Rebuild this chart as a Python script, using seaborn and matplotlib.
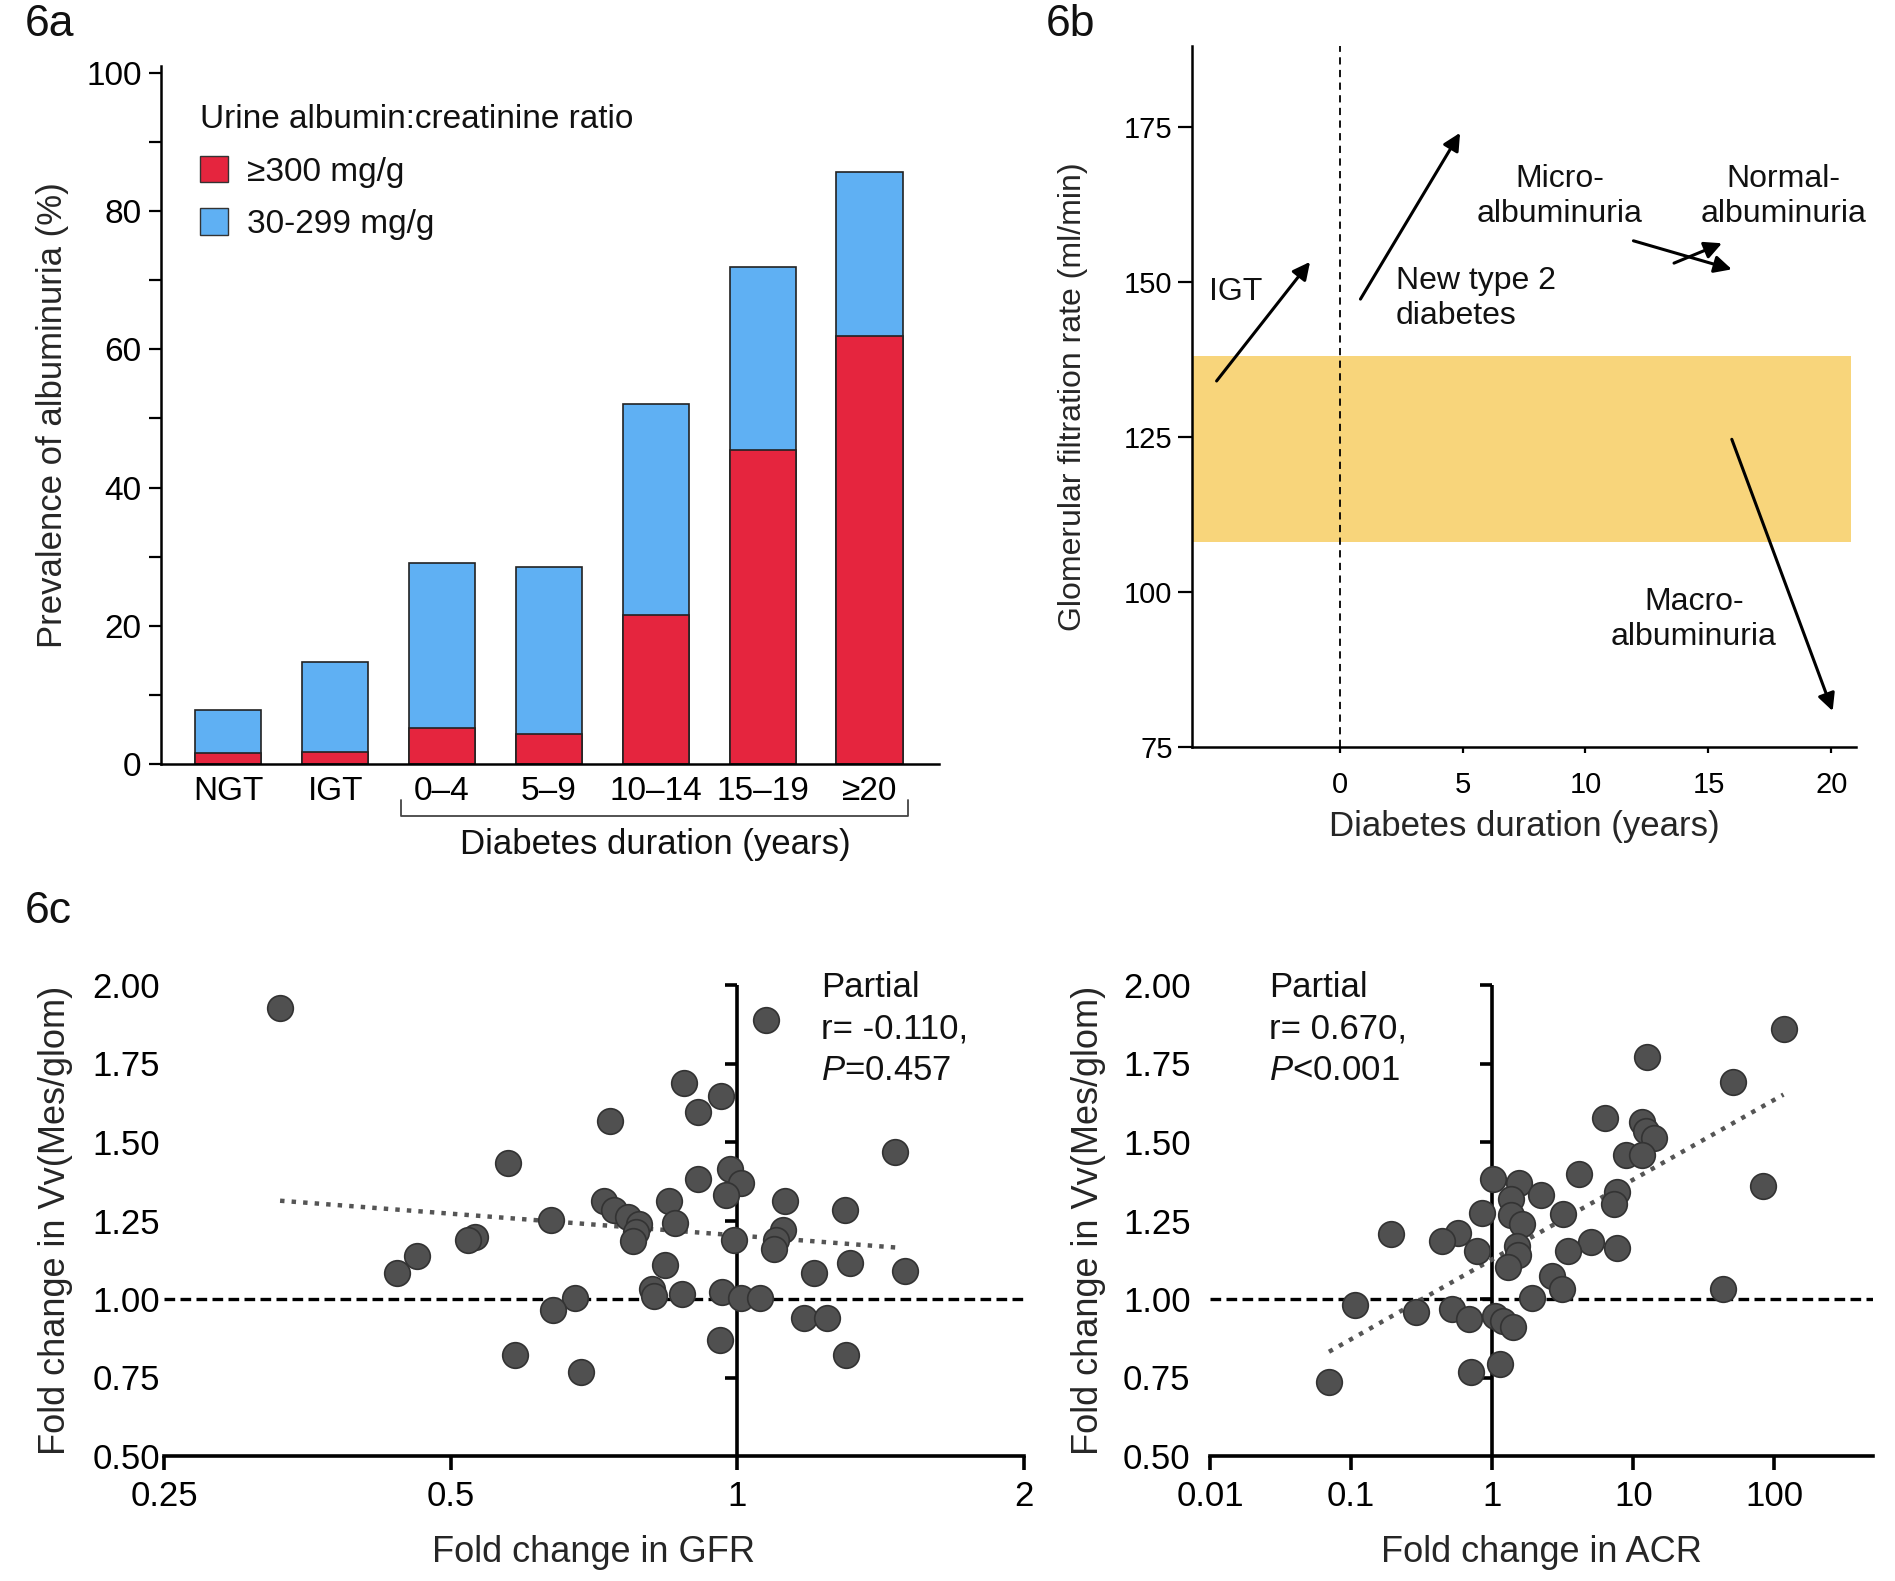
import numpy as np
import pandas as pd
import matplotlib
matplotlib.use('Agg')
import matplotlib.pyplot as plt
from matplotlib.patches import Patch
from matplotlib.markers import TICKLEFT
from matplotlib.ticker import NullLocator, MultipleLocator
import seaborn as sns

# ---- 6a: prevalence of albuminuria ----
groups = ['NGT', 'IGT', '0–4', '5–9', '10–14', '15–19', '≥20']
macro_pct = [1.6, 1.7, 5.2, 4.3, 21.6, 45.5, 62.0]     # >=300 mg/g
total_pct = [7.8, 14.7, 29.1, 28.5, 52.1, 71.9, 85.7]  # top of stacked bar

# ---- 6b: GFR course ----
band_lo, band_hi = 108, 138
band_x = [-6, 20.8]
arrow_x0 = [-5.0, 0.85, 11.95, 13.6, 15.95]
arrow_y0 = [134.0, 147.2, 156.6, 153.0, 124.6]
arrow_x1 = [-1.2, 4.9, 15.95, 15.55, 20.05]
arrow_y1 = [153.2, 174.0, 152.0, 156.2, 80.8]
note_text = ['IGT', 'New type 2\ndiabetes', 'Micro-\nalbuminuria',
             'Normal-\nalbuminuria', 'Macro-\nalbuminuria']
note_x = [-5.3, 2.3, 8.95, 18.05, 14.4]
note_y = [148.3, 147.3, 163.7, 163.7, 95.6]
note_ha = ['left', 'left', 'center', 'center', 'center']

# ---- 6c: fold changes ----
gfr_fold = [0.331, 1.073, 0.878, 0.962, 0.909, 0.735, 1.464, 0.575, 0.983, 1.009,
            0.909, 0.974, 0.848, 1.122, 0.725, 0.742, 1.296, 0.767, 0.637, 0.788,
            0.861, 1.116, 0.782, 0.992, 0.530, 0.521, 0.777, 1.099, 1.094, 0.461,
            1.312, 0.839, 0.439, 1.500, 1.203, 0.813, 0.817, 0.874, 0.964, 1.009,
            1.057, 0.676, 0.641, 1.176, 1.243, 0.959, 0.584, 1.302, 0.685]
vv_gfr = [1.926, 1.888, 1.689, 1.645, 1.594, 1.568, 1.468, 1.433, 1.414, 1.370,
          1.382, 1.330, 1.313, 1.313, 1.311, 1.284, 1.284, 1.261, 1.253, 1.239,
          1.242, 1.221, 1.212, 1.189, 1.199, 1.187, 1.185, 1.187, 1.158, 1.138,
          1.116, 1.107, 1.084, 1.090, 1.082, 1.032, 1.010, 1.015, 1.021, 1.004,
          1.004, 1.004, 0.966, 0.941, 0.941, 0.870, 0.823, 0.821, 0.769]
acr_fold = [117.8, 12.6, 50.5, 6.27, 11.6, 12.4, 13.95, 8.93, 11.5, 4.12,
            1.02, 1.55, 83.5, 2.21, 7.62, 1.36, 7.26, 0.853, 3.2, 1.36,
            1.62, 0.192, 0.572, 0.44, 5.0, 7.62, 1.49, 0.778, 3.45, 1.52,
            1.29, 2.66, 3.15, 43.5, 1.92, 0.107, 0.29, 0.521, 0.689, 1.04,
            1.2, 1.41, 1.13, 0.702, 0.0697]
vv_acr = [1.859, 1.771, 1.691, 1.576, 1.565, 1.536, 1.513, 1.460, 1.460, 1.399,
          1.382, 1.368, 1.361, 1.330, 1.342, 1.319, 1.302, 1.273, 1.270, 1.267,
          1.239, 1.208, 1.210, 1.185, 1.181, 1.164, 1.170, 1.153, 1.153, 1.141,
          1.101, 1.073, 1.032, 1.032, 1.002, 0.981, 0.960, 0.969, 0.937, 0.947,
          0.929, 0.912, 0.794, 0.769, 0.735]
gfr_fit_x = [0.331, 1.467]
gfr_fit_y = [1.313, 1.164]
acr_fit_x = [0.0697, 116.0]
acr_fit_y = [0.832, 1.651]

sns.set_style('ticks')
plt.rcParams['font.family'] = ['Liberation Sans', 'DejaVu Sans']
plt.rcParams['mathtext.fontset'] = 'custom'
plt.rcParams['mathtext.it'] = 'Liberation Sans:italic'
plt.rcParams['mathtext.rm'] = 'Liberation Sans'
plt.rcParams['axes.edgecolor'] = 'black'
plt.rcParams['text.color'] = '#111111'
plt.rcParams['xtick.color'] = 'black'
plt.rcParams['ytick.color'] = 'black'

W, H = 1895, 1581
fig = plt.figure(figsize=(W / 100, H / 100), dpi=100)


def box(x0, y0, x1, y1):
    # pixel box (top-left origin) -> figure fraction
    return [x0 / W, 1 - y1 / H, (x1 - x0) / W, (y1 - y0) / H]


RED = '#E5253E'
BLUE = '#5FB0F3'

# ================= 6a =================
ax = fig.add_axes(box(161, 66, 939, 764))
df = pd.DataFrame({'group': groups, 'total': total_pct, 'macro': macro_pct})
sns.barplot(data=df, x='group', y='total', color=BLUE, edgecolor='#222222',
            linewidth=1.2, width=0.62, saturation=1, ax=ax)
sns.barplot(data=df, x='group', y='macro', color=RED, edgecolor='#222222',
            linewidth=1.2, width=0.62, saturation=1, ax=ax)
ax.set_xlim(-0.63, 6.65)
ax.set_ylim(0, 101)
ax.yaxis.set_major_locator(MultipleLocator(20))
ax.yaxis.set_minor_locator(MultipleLocator(10))
ax.tick_params(axis='y', which='both', length=9, width=1.6, labelsize=24, pad=5)
ax.tick_params(axis='x', length=0, labelsize=24, pad=9)
for s in ['top', 'right']:
    ax.spines[s].set_visible(False)
ax.spines['left'].set_linewidth(1.8)
ax.spines['bottom'].set_linewidth(1.8)
ax.set_xlabel('')
ax.set_ylabel('Prevalence of albuminuria (%)', fontsize=25, labelpad=12)
ax.plot([1.62, 1.62, 6.36, 6.36], [-5.2, -7.5, -7.5, -5.2], color='#444444',
        lw=1.3, clip_on=False)
ax.text(4.0, -11.7, 'Diabetes duration (years)', ha='center', va='center',
        fontsize=25)
handles = [Patch(facecolor=RED, edgecolor='#333333', label='≥300 mg/g'),
           Patch(facecolor=BLUE, edgecolor='#333333', label='30-299 mg/g')]
leg = ax.legend(handles=handles, title='Urine albumin:creatinine ratio',
                loc='upper left', bbox_to_anchor=(200 / W, 1 - 104 / H),
                bbox_transform=fig.transFigure, frameon=False, fontsize=24,
                title_fontsize=24, handlelength=0.85, handleheight=0.85,
                handletextpad=0.55, labelspacing=0.62, borderpad=0,
                borderaxespad=0, alignment='left')

# ================= 6b =================
ax = fig.add_axes(box(1192, 46, 1856, 747))
ax.fill_between(band_x, band_lo, band_hi, color='#F8D57B', lw=0, zorder=1)
ax.axvline(0, color='black', lw=1.3, ls=(0, (4, 3)), zorder=2)
for x0, y0, x1, y1 in zip(arrow_x0, arrow_y0, arrow_x1, arrow_y1):
    ax.annotate('', xy=(x1, y1), xytext=(x0, y0),
                arrowprops=dict(arrowstyle='-|>', color='black', lw=2.2,
                                mutation_scale=26, shrinkA=0, shrinkB=0))
for t, x, y, ha in zip(note_text, note_x, note_y, note_ha):
    ax.text(x, y, t, ha=ha, va='center', fontsize=23, linespacing=1.2)
ax.set_xlim(-6, 21)
ax.set_ylim(75, 188)
ax.set_xticks([0, 5, 10, 15, 20])
ax.set_yticks([75, 100, 125, 150, 175])
ax.tick_params(axis='y', length=10, width=1.6, labelsize=21, pad=4)
ax.tick_params(axis='x', length=4, width=1.6, labelsize=21, pad=13)
for s in ['top', 'right']:
    ax.spines[s].set_visible(False)
ax.spines['left'].set_linewidth(1.8)
ax.spines['bottom'].set_linewidth(1.8)
ax.set_xlabel('Diabetes duration (years)', fontsize=25, labelpad=8)
ax.set_ylabel('Glomerular filtration rate (ml/min)', fontsize=23, labelpad=26)

# ================= 6c =================
yt = [0.5, 0.75, 1.0, 1.25, 1.5, 1.75, 2.0]


def fold_panel(ax, xs, ys, fit_x, fit_y, xlim, xticks, xticklabels, xlabel,
               txt, txt_x, ypad, lpad):
    ax.axhline(1.0, color='black', lw=2.4, ls=(0, (3.2, 1.6)), zorder=1)
    ax.axvline(1.0, color='black', lw=2.6, zorder=2)
    ax.plot([1] * (len(yt) - 1), yt[1:], ls='none', marker=TICKLEFT, ms=9,
            mew=2.6, color='black', zorder=2, clip_on=False)
    sns.lineplot(x=fit_x, y=fit_y, ax=ax, color='#555555', lw=3.2,
                 ls=(0, (1, 1.6)), zorder=2)
    sns.scatterplot(x=xs, y=ys, ax=ax, s=340, color='#505050',
                    edgecolor='#333333', linewidth=1.2, zorder=3, clip_on=False)
    ax.set_xlim(*xlim)
    ax.set_ylim(0.5, 2.0)
    ax.set_xticks(xticks)
    ax.set_xticklabels(xticklabels)
    ax.xaxis.set_minor_locator(NullLocator())
    ax.set_yticks(yt)
    ax.set_yticklabels([f'{v:.2f}' for v in yt])
    ax.tick_params(axis='y', length=0, labelsize=25, pad=ypad)
    ax.tick_params(axis='x', length=10, width=2.6, labelsize=25, pad=7)
    for s in ['top', 'right', 'left']:
        ax.spines[s].set_visible(False)
    ax.spines['bottom'].set_linewidth(2.6)
    ax.set_xlabel(xlabel, fontsize=26, labelpad=16)
    ax.set_ylabel('Fold change in Vv(Mes/glom)', fontsize=26, labelpad=lpad)
    ax.text(txt_x, 2.045, txt, ha='left', va='top', fontsize=25,
            linespacing=1.32)


ax = fig.add_axes(box(164, 985, 1024, 1456))
ax.set_xscale('log', base=2)
fold_panel(ax, gfr_fold, vv_gfr, gfr_fit_x, gfr_fit_y, (0.25, 2.0),
           [0.25, 0.5, 1, 2], ['0.25', '0.5', '1', '2'], 'Fold change in GFR',
           'Partial\nr= -0.110,\n$\\it{P}$=0.457', 1.225, 3, 14)

ax = fig.add_axes(box(1210, 985, 1873, 1456))
ax.set_xscale('log', base=10)
fold_panel(ax, acr_fold, vv_acr, acr_fit_x, acr_fit_y, (0.01, 500),
           [0.01, 0.1, 1, 10, 100], ['0.01', '0.1', '1', '10', '100'],
           'Fold change in ACR', 'Partial\nr= 0.670,\n$\\it{P}$<0.001', 0.0262,
           14, 12)

# panel tags
fig.text(25 / W, 1 - 36 / H, '6a', fontsize=32)
fig.text(1046 / W, 1 - 36 / H, '6b', fontsize=32)
fig.text(25 / W, 1 - 923 / H, '6c', fontsize=32)

fig.savefig('out.png', dpi=100)
